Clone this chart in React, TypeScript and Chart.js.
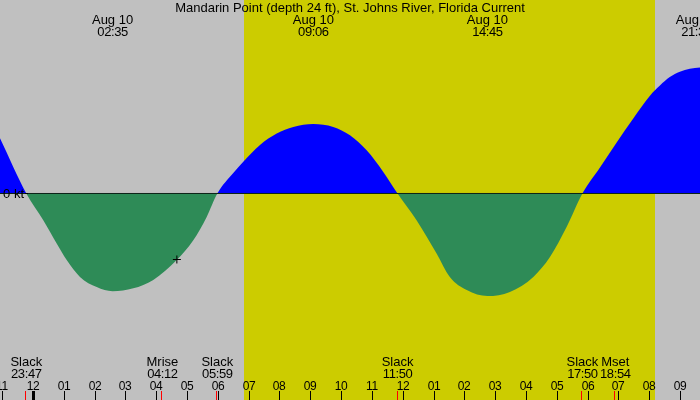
import { useEffect, useRef } from 'react';
import { Chart, registerables } from 'chart.js';

Chart.register(...registerables);

// Hours after midnight, Aug 10 (negative = Aug 9), and current speed in knots
const HOURS = [
  -1.071, -0.217, 0.334, 0.769, 1.094, 1.525, 2.068, 2.583, 3.255, 3.904,
  4.664, 5.203, 5.638, 5.983, 6.501, 6.826, 7.368, 7.91, 8.449, 9.1, 9.746,
  10.29, 10.83, 11.37, 11.833, 12.45, 13.1, 13.53, 14.08, 14.75, 15.48,
  16.24, 16.78, 17.32, 17.833, 18.404, 18.945, 19.484, 20.026, 20.35, 20.67,
  20.996, 21.32, 21.65,
];
const KNOTS = [
  0.92, 0, -0.445, -0.833, -1.11, -1.39, -1.56, -1.63, -1.58, -1.44,
  -1.11, -0.78, -0.39, 0, 0.34, 0.53, 0.81, 1.0, 1.11, 1.16, 1.11,
  0.97, 0.72, 0.36, 0, -0.445, -1.0, -1.39, -1.61, -1.71, -1.64,
  -1.39, -1.06, -0.56, 0, 0.435, 0.85, 1.25, 1.63, 1.8, 1.94,
  2.03, 2.08, 2.1,
];

const X_MIN = -1.071;
const X_MAX = 21.65;
const Y_MIN = -3.442;
const Y_MAX = 3.225;

const SUNRISE = 6.84;
const SUNSET = 20.19;

const TITLE = 'Mandarin Point (depth 24 ft), St. Johns River, Florida Current';

const TOP_TIMES = [2.583, 9.1, 14.75, 21.533];
const TOP_DATES = ['Aug 10', 'Aug 10', 'Aug 10', 'Aug 10'];
const TOP_LABELS = ['02:35', '09:06', '14:45', '21:32'];

const BOTTOM_TIMES = [-0.217, 4.2, 5.983, 11.833, 17.833, 18.9];
const BOTTOM_NAMES = ['Slack', 'Mrise', 'Slack', 'Slack', 'Slack', 'Mset'];
const BOTTOM_LABELS = ['23:47', '04:12', '05:59', '11:50', '17:50', '18:54'];

const TICK_HOURS = [
  -1, 0, 1, 2, 3, 4, 5, 6, 7, 8, 9, 10, 11, 12, 13, 14, 15, 16, 17, 18, 19, 20, 21,
];
const TICK_LABELS = [
  '11', '12', '01', '02', '03', '04', '05', '06', '07', '08', '09', '10',
  '11', '12', '01', '02', '03', '04', '05', '06', '07', '08', '09',
];

const NOW_POINT = [{ x: 4.67, y: -1.1 }];

const FONT = '13px "Liberation Sans", Arial, sans-serif';
const TICK_FONT = '12px "Liberation Sans", Arial, sans-serif';

const tidePlugin = {
  id: 'tideDecor',
  beforeDraw(chart: any) {
    const { ctx, width, height } = chart;
    const xs = chart.scales.x;
    ctx.save();
    ctx.fillStyle = '#c0c0c0';
    ctx.fillRect(0, 0, width, height);
    const x0 = Math.round(xs.getPixelForValue(SUNRISE));
    const x1 = Math.round(xs.getPixelForValue(SUNSET));
    ctx.fillStyle = '#cccc00';
    ctx.fillRect(x0, 0, x1 - x0, height);
    ctx.restore();
  },
  afterDraw(chart: any) {
    const { ctx, height } = chart;
    const xs = chart.scales.x;
    const ys = chart.scales.y;
    ctx.save();
    ctx.font = FONT;
    ctx.fillStyle = '#000';
    ctx.textBaseline = 'alphabetic';

    // title and max/min events
    ctx.textAlign = 'center';
    ctx.fillText(TITLE, 350, 12);
    TOP_TIMES.forEach((t, i) => {
      const px = xs.getPixelForValue(t);
      ctx.letterSpacing = '0px';
      ctx.fillText(TOP_DATES[i], px, 24);
      ctx.letterSpacing = '-0.4px';
      ctx.fillText(TOP_LABELS[i], px, 36);
    });

    // slack / moon events
    BOTTOM_TIMES.forEach((t, i) => {
      const px = xs.getPixelForValue(t);
      ctx.letterSpacing = '0px';
      ctx.fillText(BOTTOM_NAMES[i], px, 366);
      ctx.letterSpacing = '-0.4px';
      ctx.fillText(BOTTOM_LABELS[i], px, 378);
    });

    // hour ticks
    ctx.font = TICK_FONT;
    ctx.letterSpacing = '-0.3px';
    TICK_HOURS.forEach((h, i) => {
      const px = Math.round(xs.getPixelForValue(h));
      ctx.fillStyle = '#000';
      ctx.fillText(TICK_LABELS[i], px, 390);
      const w = h === 0 ? 3 : 1;
      ctx.fillRect(px - Math.floor(w / 2), 391, w, height - 391);
    });
    ctx.fillStyle = '#ff0000';
    BOTTOM_TIMES.forEach((t) => {
      const px = Math.round(xs.getPixelForValue(t));
      ctx.fillRect(px - 1, 391, 1, height - 391);
    });

    // zero label
    const y0 = ys.getPixelForValue(0);
    ctx.font = FONT;
    ctx.letterSpacing = '0px';
    ctx.fillStyle = '#000';
    ctx.textAlign = 'right';
    ctx.textBaseline = 'middle';
    ctx.fillText('0 kt', 24, y0 + 1);
    ctx.fillRect(25, Math.floor(y0), 3, 1);
    ctx.restore();
  },
};

export default function App() {
  const canvasRef = useRef<HTMLCanvasElement>(null);
  const chartRef = useRef<Chart | null>(null);

  useEffect(() => {
    if (!canvasRef.current) return;
    if (chartRef.current) chartRef.current.destroy();

    const curve = HOURS.map((h, i) => ({ x: h, y: KNOTS[i] }));

    chartRef.current = new Chart(canvasRef.current, {
      type: 'line',
      data: {
        datasets: [
          {
            data: NOW_POINT,
            showLine: false,
            pointStyle: 'cross',
            pointRadius: 4,
            borderColor: '#000',
            borderWidth: 1,
            order: 0,
          },
          {
            data: curve,
            borderWidth: 0,
            borderColor: 'rgba(0,0,0,0)',
            pointRadius: 0,
            cubicInterpolationMode: 'monotone',
            fill: { target: 'origin', above: 'rgba(0,0,0,0)', below: '#2e8b57' },
            order: 1,
          },
          {
            data: [{ x: X_MIN, y: 0 }, { x: X_MAX, y: 0 }],
            borderColor: '#000',
            borderWidth: 1,
            pointRadius: 0,
            fill: false,
            order: 2,
          },
          {
            data: curve,
            borderWidth: 0,
            borderColor: 'rgba(0,0,0,0)',
            pointRadius: 0,
            cubicInterpolationMode: 'monotone',
            fill: { target: 'origin', above: '#0000ff', below: 'rgba(0,0,0,0)' },
            order: 3,
          },
        ],
      } as any,
      options: {
        responsive: true,
        maintainAspectRatio: false,
        animation: false,
        events: [],
        layout: { padding: 0, autoPadding: false },
        plugins: {
          legend: { display: false },
          tooltip: { enabled: false },
        },
        scales: {
          x: { type: 'linear', display: false, min: X_MIN, max: X_MAX },
          y: { type: 'linear', display: false, min: Y_MIN, max: Y_MAX },
        },
      },
      plugins: [tidePlugin],
    });

    return () => { chartRef.current?.destroy(); };
  }, []);

  return (
    <div style={{ position: 'absolute', left: 0, top: 0, width: 700, height: 400 }}>
      <canvas ref={canvasRef} />
    </div>
  );
}
